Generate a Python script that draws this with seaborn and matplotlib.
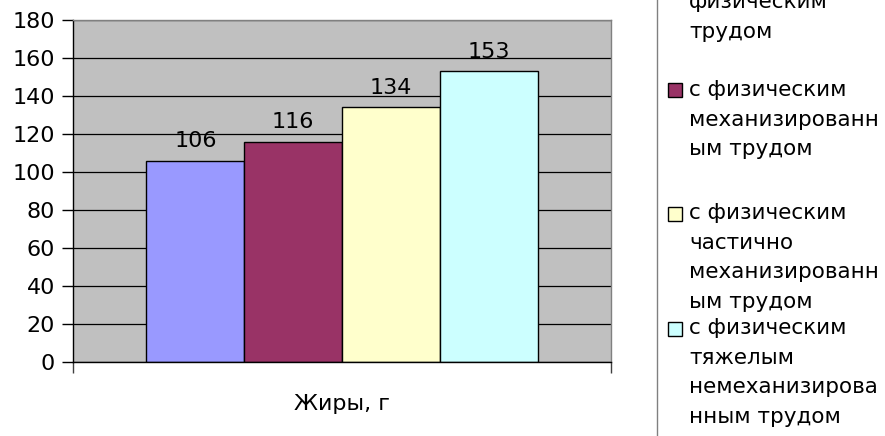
import matplotlib
matplotlib.use("Agg")
import matplotlib.pyplot as plt
from matplotlib.patches import Rectangle
import seaborn as sns
import pandas as pd

# Data
category = ["Жиры, г"]
groups = [
    "не связанным с\nфизическим\nтрудом",
    "с физическим\nмеханизированн\nым трудом",
    "с физическим\nчастично\nмеханизированн\nым трудом",
    "с физическим\nтяжелым\nнемеханизирова\nнным трудом",
]
values = [106, 116, 134, 153]
colors = ["#9999FF", "#993366", "#FFFFCC", "#CCFFFF"]
yticks = [0, 20, 40, 60, 80, 100, 120, 140, 160, 180]

df = pd.DataFrame({"cat": category * len(groups), "group": groups, "value": values})

W, H = 885, 436
fig = plt.figure(figsize=(W / 100, H / 100), dpi=100)
plt.rcParams["font.family"] = ["DejaVu Sans"]


def fx(px):
    return px / W


def fy(py):
    return 1 - py / H


ax = fig.add_axes([fx(73), fy(362), fx(611) - fx(73), fy(20) - fy(362)])
ax.set_facecolor("#C0C0C0")
ax.set_axisbelow(True)
ax.yaxis.grid(True, color="#000000", linewidth=0.9)

sns.barplot(data=df, x="cat", y="value", hue="group", palette=colors,
            saturation=1, width=0.727, gap=0, edgecolor="#000000", linewidth=1.0,
            legend=False, ax=ax, dodge=True)

for cont in ax.containers:
    ax.bar_label(cont, labels=[f"{v:g}" for v in cont.datavalues],
                 padding=7, fontsize=16)

ax.set_xlim(-0.5, 0.5)
ax.set_ylim(0, 180)
ax.set_yticks(yticks)
ax.tick_params(axis="y", labelsize=16, length=8, width=1, color="#000000", pad=5)
ax.set_xticks([-0.5, 0.5])
ax.set_xticklabels(["", ""])
ax.tick_params(axis="x", length=8, width=1, color="#404040")
ax.set_xticks([0], minor=True)
ax.set_xticklabels(category, minor=True, fontsize=16)
ax.tick_params(axis="x", which="minor", length=0, pad=23)
ax.set_xlabel("")
ax.set_ylabel("")
for side in ["left", "bottom"]:
    ax.spines[side].set_color("#000000")
for side in ["right", "top"]:
    ax.spines[side].set_color("#808080")
for sp in ax.spines.values():
    sp.set_linewidth(1.0)

# Legend box (extends past the figure edges)
fig.patches.append(Rectangle((fx(656.5), fy(446)), fx(260), fy(-10) - fy(446),
                             transform=fig.transFigure, facecolor="white",
                             edgecolor="#808080", linewidth=1.0))
entry_top = [-27, 90, 213, 328]
line_step = 29.5
for lab, col, ytop in zip(groups, colors, entry_top):
    fig.patches.append(Rectangle((fx(667.5), fy(ytop + 7.5)), fx(14), fy(ytop - 6.5) - fy(ytop + 7.5),
                                 transform=fig.transFigure, facecolor=col,
                                 edgecolor="#000000", linewidth=1.0))
    for k, line in enumerate(lab.split("\n")):
        fig.text(fx(689), fy(ytop + k * line_step), line, fontsize=15.5,
                 ha="left", va="center")

fig.savefig("out.png", dpi=100)
